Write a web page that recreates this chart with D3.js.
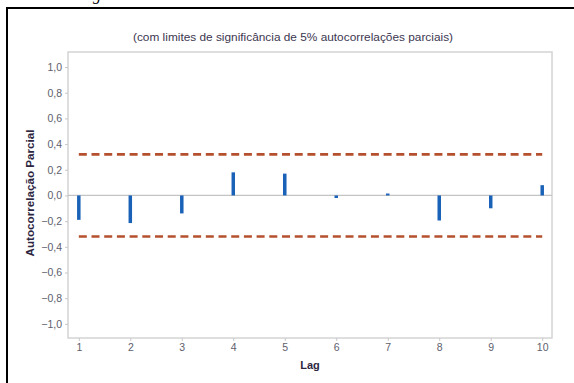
<!DOCTYPE html>
<meta charset="utf-8">
<script src="https://d3js.org/d3.v7.min.js"></script>
<style>
  body { margin: 0; background: #fff; }
  svg { display: block; font-family: "Liberation Sans", Arial, sans-serif; }
</style>
<body>
<div id="chart"></div>
<script>
// lags and partial autocorrelations
var lags = [1, 2, 3, 4, 5, 6, 7, 8, 9, 10];
var pacf = [-0.19, -0.215, -0.14, 0.18, 0.17, -0.02, 0.015, -0.195, -0.10, 0.08];
var limit = 0.32;
var yTicks = [-1.0, -0.8, -0.6, -0.4, -0.2, 0.0, 0.2, 0.4, 0.6, 0.8, 1.0];

var W = 574, H = 383;
var margin = {top: 52, right: 22, bottom: 45, left: 68},
    width = W - margin.left - margin.right,
    height = H - margin.top - margin.bottom;

var svg = d3.select("#chart").append("svg")
    .attr("width", W)
    .attr("height", H);

// outer frame (only top and left edges show)
svg.append("line").attr("x1", 6).attr("x2", W).attr("y1", 8).attr("y2", 8)
  .attr("stroke", "#000").attr("stroke-width", 2);
svg.append("line").attr("x1", 7).attr("x2", 7).attr("y1", 7).attr("y2", H)
  .attr("stroke", "#000").attr("stroke-width", 2);
// cut-off caption above the figure
svg.append("text").attr("x", 93).attr("y", 0)
  .style("font-family", "'Liberation Serif', serif").style("font-style", "italic")
  .style("font-size", "16px").text("g");

var g = svg.append("g")
    .attr("transform", "translate(" + margin.left + "," + margin.top + ")");

var x = d3.scaleLinear().domain([0.79, 10.19]).range([0, width]);
var y = d3.scaleLinear().domain([-1.11, 1.117]).range([height, 0]);

var fmt = function(d) { return d3.format(".1f")(d).replace(".", ","); };

// plot box
g.append("rect").attr("x", 0).attr("y", 0).attr("width", width).attr("height", height)
  .attr("fill", "none").attr("stroke", "#d4d4d4").attr("stroke-width", 1.5);

var yAxis = g.append("g")
  .call(d3.axisLeft(y).tickValues(yTicks).tickFormat(fmt).tickSize(3).tickPadding(3));
var xAxis = g.append("g")
  .attr("transform", "translate(0," + height + ")")
  .call(d3.axisBottom(x).tickValues(lags).tickSize(3).tickPadding(3));
[yAxis, xAxis].forEach(function(a) {
  a.select(".domain").remove();
  a.selectAll("line").attr("stroke", "#c8c8c8");
  a.selectAll("text").attr("fill", "#5e5e6c").style("font-size", "10.5px");
});

// zero line
g.append("line").attr("x1", 0).attr("x2", width).attr("y1", y(0)).attr("y2", y(0))
  .attr("stroke", "#c4c4c4").attr("stroke-width", 1.2);

// significance limits
[limit, -limit].forEach(function(v) {
  g.append("line")
    .attr("x1", x(lags[0])).attr("x2", x(lags[lags.length - 1]))
    .attr("y1", y(v)).attr("y2", y(v))
    .attr("stroke", "#b5502e").attr("stroke-width", 2.6)
    .attr("stroke-dasharray", "8,4.7");
});

// spikes
g.selectAll(".spike")
  .data(lags)
  .enter()
  .append("line")
    .attr("x1", function(d) { return x(d); })
    .attr("x2", function(d) { return x(d); })
    .attr("y1", y(0))
    .attr("y2", function(d, i) { return y(pacf[i]); })
    .attr("stroke", "#1a62b8")
    .attr("stroke-width", 3.5);

// titles
svg.append("text")
  .attr("x", 293).attr("y", 41)
  .attr("text-anchor", "middle")
  .attr("fill", "#3c3650")
  .attr("textLength", 320).attr("lengthAdjust", "spacingAndGlyphs")
  .style("font-size", "10.5px")
  .text("(com limites de significância de 5% autocorrelações parciais)");

svg.append("text")
  .attr("x", 310).attr("y", 369)
  .attr("text-anchor", "middle")
  .attr("fill", "#2c2540")
  .style("font-size", "11px").style("font-weight", "bold")
  .text("Lag");

svg.append("text")
  .attr("transform", "translate(34," + 193 + ") rotate(-90)")
  .attr("text-anchor", "middle")
  .attr("fill", "#2c2540")
  .attr("textLength", 127).attr("lengthAdjust", "spacingAndGlyphs")
  .style("font-size", "10.5px").style("font-weight", "bold")
  .text("Autocorrelação Parcial");
</script>
</body>
